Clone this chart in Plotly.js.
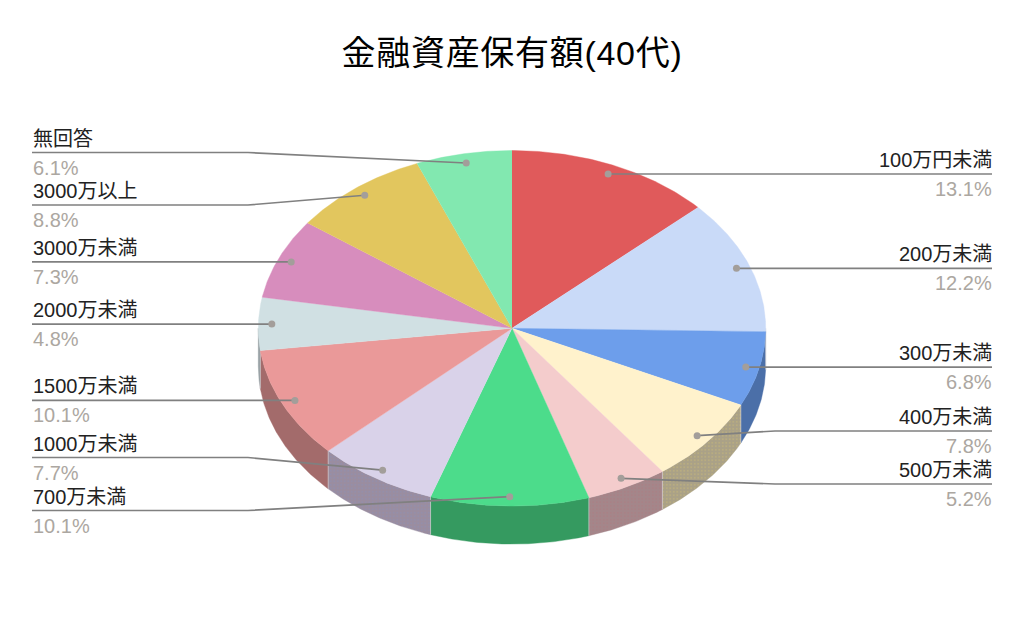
<!DOCTYPE html>
<html lang="ja">
<head>
<meta charset="utf-8">
<script src="https://cdn.plot.ly/plotly-3.0.1.min.js"></script>
<style>html,body{margin:0;padding:0;background:#fff}#chart{width:1024px;height:633px}
.gtitle{letter-spacing:0.7px}</style>
</head>
<body>
<div id="chart"></div>
<script>
const categories = ["100万円未満","200万未満","300万未満","400万未満","500万未満","700万未満","1000万未満","1500万未満","2000万未満","3000万未満","3000万以上","無回答"];
const shares = [13.1,12.2,6.8,7.8,5.2,10.1,7.7,10.1,4.8,7.3,8.8,6.1];
const sliceColors = ["#e05a5b","#c9daf8","#6d9eeb","#fff2cc","#f4cccc","#4cdc8b","#d9d2e9","#ea9999","#d0e0e3","#d78dbd","#e2c65e","#82e8b0"];
const wallColors = ["#9c3f40","#8c98ad","#4b6fa8","#aaa187","#a4868a","#359a60","#9a8da0","#a36b6b","#929da0","#965f84","#9e8a42","#5ba27b"];
const wallStipple = [null,null,null,"#bdb07e","#ab8085",null,"#9290ae",null,null,null,null,null];

// Chart geometry in screen pixels, converted to axis units below.
const W = 1024, H = 633, CX = 512, CY = 328.3, RX = 253.7, RY = 177.8, DEPTH = 38;
const DOT_R = 0.947;
const LEFT_X = 32, RIGHT_X = 992, ELBOW_LEFT = 248, ELBOW_RIGHT = 775;
// Pixel height of each leader's horizontal run; null = straight from the dot.
const labelLineY = [null,null,null,431,484,510.5,457.5,null,null,null,205,152.5];

const X = p => (p - CX) / RX, Y = p => (CY - p) / RY;
const polar = (deg, r, drop) => {
  const a = deg * Math.PI / 180;
  return [r * Math.sin(a), r * Math.cos(a) - (drop || 0)];
};
const arc = (a, b, r, drop) => {
  const n = Math.max(2, Math.ceil(Math.abs(b - a) / 0.5)), out = [];
  for (let i = 0; i <= n; i++) out.push(polar(a + (b - a) * i / n, r, drop));
  return out;
};
const poly = (pts, color, stipple) => {
  const t = {
    type: "scatter", mode: "lines", hoverinfo: "skip", showlegend: false,
    x: pts.map(p => p[0]), y: pts.map(p => p[1]),
    fill: "toself", fillcolor: color,
    line: {color: color, width: 0.4}
  };
  if (stipple) t.fillpattern = {shape: ".", bgcolor: color, fgcolor: stipple, size: 3.5, solidity: 0.2};
  return t;
};

const total = shares.reduce((s, v) => s + v, 0);
const traces = [], annotations = [];
let acc = 0;
const spans = shares.map(v => { const a = acc; acc += v; return [a / total * 360, acc / total * 360]; });
const dropUnits = DEPTH / RY;

// side wall, front half only
spans.forEach(([a, b], i) => {
  const s = Math.max(a, 90), e = Math.min(b, 270);
  if (e <= s) return;
  traces.push(poly(arc(s, e, 1, 0).concat(arc(e, s, 1, dropUnits)), wallColors[i], wallStipple[i]));
});
// faint seams where side walls meet
spans.forEach(([a]) => {
  if (a <= 90 || a >= 270) return;
  const t = polar(a, 1, 0), u = polar(a, 1, dropUnits);
  traces.push({type: "scatter", mode: "lines", hoverinfo: "skip", showlegend: false,
    x: [t[0], u[0]], y: [t[1], u[1]], line: {color: "rgba(215,212,215,0.6)", width: 1}});
});
// top face
spans.forEach(([a, b], i) => {
  traces.push(poly([[0, 0]].concat(arc(a, b, 1, 0)), sliceColors[i]));
});
// leaders, dots and labels
const dotsX = [], dotsY = [];
spans.forEach(([a, b], i) => {
  const mid = (a + b) / 2;
  const [dx, dy] = polar(mid, DOT_R, 0);
  const right = mid < 180;
  const endX = X(right ? RIGHT_X : LEFT_X);
  const ly = labelLineY[i] === null ? dy : Y(labelLineY[i]);
  const xs = labelLineY[i] === null ? [dx, endX] : [dx, X(right ? ELBOW_RIGHT : ELBOW_LEFT), endX];
  const ys = labelLineY[i] === null ? [dy, ly] : [dy, ly, ly];
  traces.push({type: "scatter", mode: "lines", x: xs, y: ys, hoverinfo: "skip", showlegend: false,
    line: {color: "#808080", width: 1.7}});
  dotsX.push(dx); dotsY.push(dy);
  const base = {x: X(right ? RIGHT_X + 1 : LEFT_X), xanchor: right ? "right" : "left", yanchor: "middle",
    showarrow: false, borderpad: 0};
  annotations.push(Object.assign({}, base, {y: ly + 14 / RY, text: categories[i],
    font: {family: "'Liberation Sans','Noto Sans CJK JP',sans-serif", size: 20, color: "#222222"}}));
  annotations.push(Object.assign({}, base, {y: ly - 15 / RY, text: shares[i].toFixed(1) + "%",
    font: {family: "'Liberation Sans',sans-serif", size: 20, color: "#aca7a1"}}));
});
traces.push({type: "scatter", mode: "markers", x: dotsX, y: dotsY, hoverinfo: "skip", showlegend: false,
  marker: {color: "#a39e9a", size: 7}});

const hiddenAxis = r => ({range: r, visible: false, fixedrange: true, autorange: false});
Plotly.newPlot("chart", traces, {
  width: W, height: H,
  margin: {l: 0, r: 0, t: 0, b: 0},
  paper_bgcolor: "#ffffff", plot_bgcolor: "#ffffff",
  showlegend: false, hovermode: false,
  title: {text: "金融資産保有額(40代)", x: 0.5, xanchor: "center", y: 1 - 53 / H, yanchor: "middle",
    font: {family: "'Liberation Sans','Noto Sans CJK JP',sans-serif", size: 34, color: "#000000"}},
  xaxis: hiddenAxis([X(0), X(W)]),
  yaxis: hiddenAxis([Y(H), Y(0)]),
  annotations: annotations
}, {displayModeBar: false, staticPlot: true});
</script>
</body>
</html>
